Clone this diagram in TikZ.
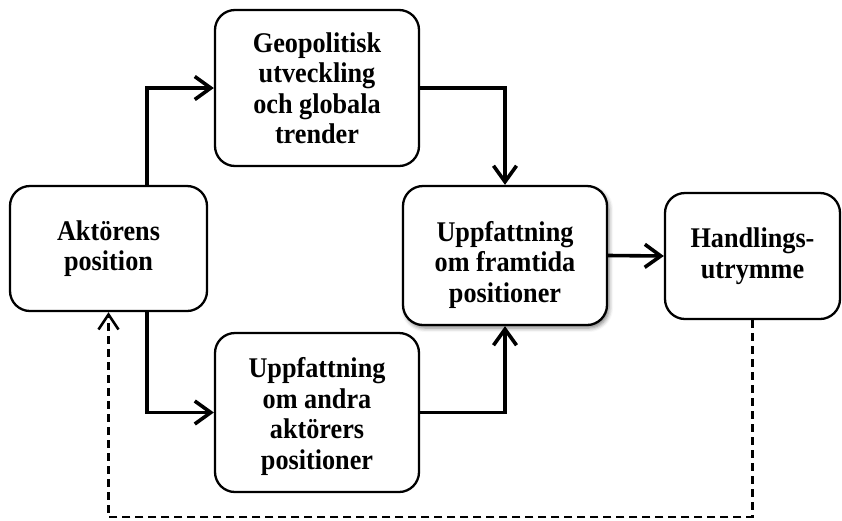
\documentclass[tikz,border=0pt]{standalone}
\usepackage{fontspec}
\setmainfont{Liberation Serif}[FakeStretch=0.92]
\usetikzlibrary{arrows.meta,shadows.blur}

\tikzset{
  boxtext/.style={align=center, inner sep=0pt,
    font=\bfseries\fontsize{28.5}{30.5}\selectfont},
  box/.style={boxtext, draw=black, line width=2.3pt, rounded corners=20pt, fill=white},
  arr/.style={line width=3.6pt, -{Straight Barb[length=16pt,width=23pt]}},
  darr/.style={line width=2.6pt, dash pattern=on 8pt off 5pt,
    -{Straight Barb[length=15pt,width=20pt]}},
  softshadow/.style={blur shadow={shadow xshift=2pt, shadow yshift=-3pt,
    shadow blur radius=4pt, shadow opacity=50}}
}

\begin{document}
\begin{tikzpicture}[x=1pt,y=-1pt]
  \useasboundingbox (0,0) rectangle (842,520);

  % boxes
  \node[box, minimum width=197pt, minimum height=125pt] (akt) at (108.5,248.5)
    {Aktörens\\position};
  \node[box, minimum width=204pt, minimum height=156pt] (geo) at (317,88)
    {Geopolitisk\\utveckling\\och globala\\trender};
  \node[box, minimum width=204pt, minimum height=159pt] (oth) at (317,412.5) {};
  \node[boxtext] (othtext) at ([yshift=-4pt]oth.center)
    {Uppfattning\\om andra\\aktörers\\positioner};
  \node[box, softshadow, minimum width=204pt, minimum height=139pt] (fut) at (505,255.5) {};
  \node[boxtext] (futtext) at ([yshift=-9pt]fut.center)
    {Uppfattning\\om framtida\\positioner};
  \node[box, minimum width=175pt, minimum height=126pt] (hand) at (752.5,256)
    {Handlings-\\utrymme};

  % connectors
  \draw[arr] ([xshift=38.5pt]akt.north) |- (geo.west);
  \draw[arr] ([xshift=38.5pt]akt.south) |- (oth.west);
  \draw[arr] (geo.east) -| (fut.north);
  \draw[arr] (oth.east) -| (fut.south);
  \draw[arr] (fut.east) -- (hand.west);

  % feedback loop
  \coordinate (bot) at (0,517);
  \draw[darr] (hand.south) -- (hand.south |- bot) -- (akt.south |- bot) -- (akt.south);
\end{tikzpicture}
\end{document}
